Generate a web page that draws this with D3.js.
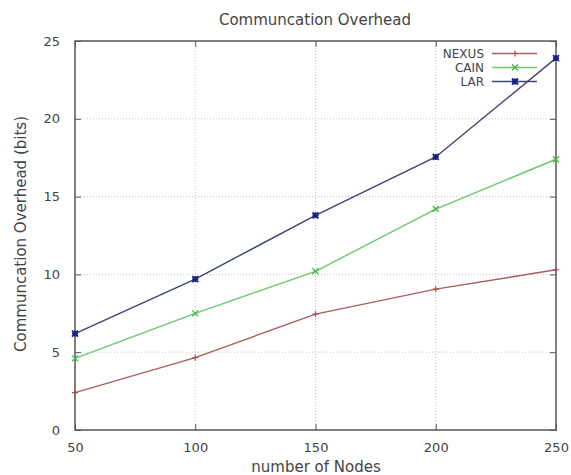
<!DOCTYPE html>
<html>
<head>
<meta charset="utf-8">
<script src="https://cdn.jsdelivr.net/npm/d3@7"></script>
<style>
  html, body { margin: 0; padding: 0; background: #fff; }
  svg { display: block; }
  text { font-family: "DejaVu Sans", sans-serif; fill: #444; }
</style>
</head>
<body>
<svg id="chart" width="571" height="475"></svg>
<script>
// Node counts on the x axis
const nodes = [50, 100, 150, 200, 250];
// Communication overhead (bits) per scheme
const nexus = [2.4, 4.65, 7.45, 9.05, 10.3];
const cain  = [4.6, 7.5, 10.2, 14.2, 17.4];
const lar   = [6.2, 9.7, 13.8, 17.55, 23.9];
const seriesNames = ["NEXUS", "CAIN", "LAR"];
const xTicks = [50, 100, 150, 200, 250];
const yTicks = [0, 5, 10, 15, 20, 25];

const series = [
  { name: seriesNames[0], values: nexus, line: "#a8605c", point: "#b04a48", marker: "plus" },
  { name: seriesNames[1], values: cain,  line: "#6cc86c", point: "#3cb83c", marker: "cross" },
  { name: seriesNames[2], values: lar,   line: "#3e4470", point: "#1a1f8a", marker: "star" }
];

const svg = d3.select("#chart");
const m = { left: 75, right: 15, top: 41, bottom: 45 };
const W = 571, H = 475;

const x = d3.scaleLinear().domain([50, 250]).range([m.left, W - m.right]);
const y = d3.scaleLinear().domain([0, 25]).range([H - m.bottom, m.top]);

// Dotted grid
const grid = svg.append("g");
grid.selectAll("line.gx").data(xTicks.slice(1, -1)).join("line")
  .attr("x1", d => x(d)).attr("x2", d => x(d))
  .attr("y1", y(0)).attr("y2", y(25))
  .attr("stroke", "#c4c4c4").attr("stroke-width", 1).attr("stroke-dasharray", "1,2");
grid.selectAll("line.gy").data(yTicks.slice(1, -1)).join("line")
  .attr("x1", x(50)).attr("x2", x(250))
  .attr("y1", d => y(d)).attr("y2", d => y(d))
  .attr("stroke", "#c4c4c4").attr("stroke-width", 1).attr("stroke-dasharray", "1,2");

// Axes with inward ticks on all four sides
const axisStyle = g => {
  g.select(".domain").remove();
  g.selectAll(".tick line").attr("stroke", "#555");
  g.selectAll(".tick text").attr("fill", "#444").style("font-size", "13px")
    .style("font-family", "'DejaVu Sans', sans-serif");
};
svg.append("g").attr("transform", `translate(0,${y(0)})`)
  .call(d3.axisBottom(x).tickValues(xTicks).tickSize(-6).tickPadding(13))
  .call(axisStyle);
svg.append("g").attr("transform", `translate(0,${y(25)})`)
  .call(d3.axisTop(x).tickValues(xTicks).tickSize(-6).tickFormat(""))
  .call(axisStyle);
svg.append("g").attr("transform", `translate(${x(50)},0)`)
  .call(d3.axisLeft(y).tickValues(yTicks).tickSize(-6).tickPadding(15))
  .call(axisStyle);
svg.append("g").attr("transform", `translate(${x(250)},0)`)
  .call(d3.axisRight(y).tickValues(yTicks).tickSize(-6).tickFormat(""))
  .call(axisStyle);

// Plot border
svg.append("rect")
  .attr("x", x(50)).attr("y", y(25))
  .attr("width", x(250) - x(50)).attr("height", y(0) - y(25))
  .attr("fill", "none").attr("stroke", "#555").attr("stroke-width", 1.5);

// Point markers
function drawMarker(g, type, cx, cy, color, r) {
  const p = d3.path();
  if (type === "plus" || type === "star") {
    p.moveTo(cx - r, cy); p.lineTo(cx + r, cy);
    p.moveTo(cx, cy - r); p.lineTo(cx, cy + r);
  }
  if (type === "cross" || type === "star") {
    p.moveTo(cx - r, cy - r); p.lineTo(cx + r, cy + r);
    p.moveTo(cx - r, cy + r); p.lineTo(cx + r, cy - r);
  }
  g.append("path").attr("d", p.toString()).attr("stroke", color)
    .attr("stroke-width", type === "star" ? 1.8 : 1.2).attr("fill", "none");
}

const line = d3.line().x((d, i) => x(nodes[i])).y(d => y(d));
series.forEach(s => {
  const g = svg.append("g");
  g.append("path").datum(s.values).attr("d", line)
    .attr("fill", "none").attr("stroke", s.line).attr("stroke-width", 1.4);
  s.values.forEach((v, i) => drawMarker(g, s.marker, x(nodes[i]), y(v), s.point, 3));
});

// Legend
const lg = svg.append("g");
series.forEach((s, i) => {
  const ly = 53.5 + i * 14;
  lg.append("text").attr("x", 484).attr("y", ly + 4.5).attr("text-anchor", "end")
    .style("font-size", "12px").attr("fill", "#444").text(s.name);
  lg.append("line").attr("x1", 492).attr("x2", 537).attr("y1", ly).attr("y2", ly)
    .attr("stroke", s.line).attr("stroke-width", 1.4);
  drawMarker(lg, s.marker, 515, ly, s.point, 3);
});

// Titles
svg.append("text").attr("x", 315).attr("y", 25).attr("text-anchor", "middle")
  .style("font-size", "15px").attr("fill", "#333").text("Communcation Overhead");
svg.append("text").attr("x", 316).attr("y", 472).attr("text-anchor", "middle")
  .style("font-size", "15px").attr("fill", "#333").text("number of Nodes");
svg.append("text").attr("transform", "translate(26,234) rotate(-90)").attr("text-anchor", "middle")
  .style("font-size", "15px").attr("fill", "#333").text("Communcation Overhead (bits)");
</script>
</body>
</html>
